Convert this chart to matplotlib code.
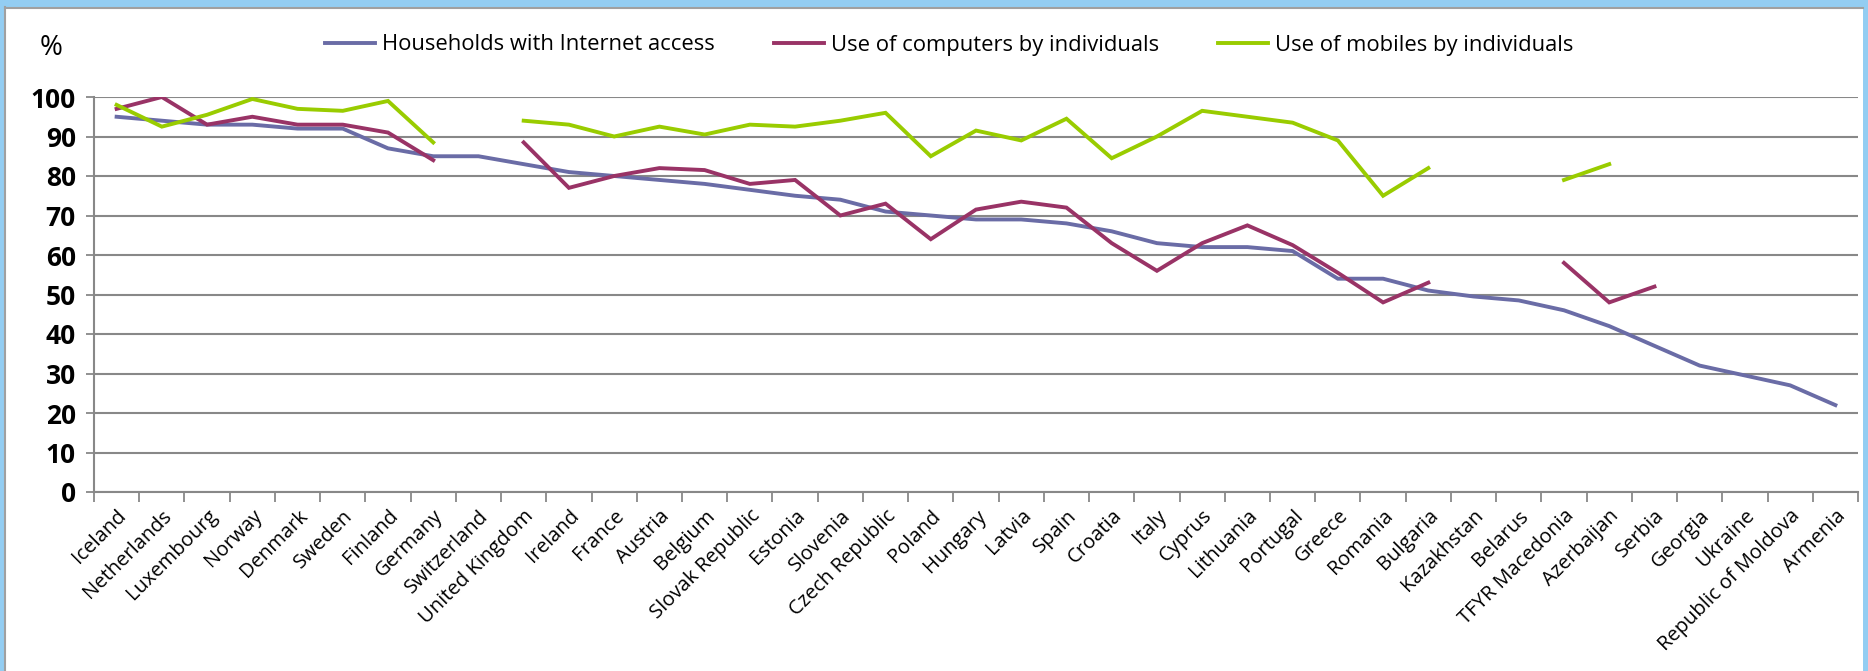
import numpy as np
import matplotlib.pyplot as plt
from matplotlib.patches import Rectangle
from matplotlib.lines import Line2D

nan = np.nan

countries = ["Iceland", "Netherlands", "Luxembourg", "Norway", "Denmark", "Sweden",
             "Finland", "Germany", "Switzerland", "United Kingdom", "Ireland", "France",
             "Austria", "Belgium", "Slovak Republic", "Estonia", "Slovenia",
             "Czech Republic", "Poland", "Hungary", "Latvia", "Spain", "Croatia", "Italy",
             "Cyprus", "Lithuania", "Portugal", "Greece", "Romania", "Bulgaria",
             "Kazakhstan", "Belarus", "TFYR Macedonia", "Azerbaijan", "Serbia", "Georgia",
             "Ukraine", "Republic of Moldova", "Armenia"]

households = [95, 94, 93, 93, 92, 92, 87, 85, 85, 83, 81, 80, 79, 78, 76.5, 75, 74, 71,
              70, 69, 69, 68, 66, 63, 62, 62, 61, 54, 54, 51, 49.5, 48.5, 46, 42, 37, 32,
              29.5, 27, 22]

computers = [97, 100, 93, 95, 93, 93, 91, 84, nan, 88.5, 77, 80, 82, 81.5, 78, 79, 70,
             73, 64, 71.5, 73.5, 72, 63, 56, 63, 67.5, 62.5, 55.5, 48, 53, nan, nan, 58,
             48, 52, nan, nan, nan, nan]

mobiles = [98, 92.5, 95.5, 99.5, 97, 96.5, 99, 88.5, nan, 94, 93, 90, 92.5, 90.5, 93,
           92.5, 94, 96, 85, 91.5, 89, 94.5, 84.5, 90, 96.5, 95, 93.5, 89, 75, 82, nan,
           nan, 79, 83, nan, nan, nan, nan, nan]

series_labels = ["Households with Internet access", "Use of computers by individuals",
                 "Use of mobiles by individuals"]
colors = ["#6A6CA6", "#993366", "#99CC00"]

plt.rcParams["font.family"] = ["Open Sans", "DejaVu Sans"]

W, H = 1868, 671
fig = plt.figure(figsize=(W / 100, H / 100), dpi=100)

# window-like frame: blue band on top and sides, thin grey border
band = "#93CDF2"
fig.patches.append(Rectangle((0, 1 - 7 / H), 1, 7 / H, transform=fig.transFigure,
                             facecolor=band, edgecolor="none", zorder=0))
fig.patches.append(Rectangle((0, 0), 4 / W, 1, transform=fig.transFigure,
                             facecolor=band, edgecolor="none", zorder=0))
fig.patches.append(Rectangle((1 - 5 / W, 0), 5 / W, 1, transform=fig.transFigure,
                             facecolor=band, edgecolor="none", zorder=0))
fig.add_artist(Line2D([5 / W, 5 / W], [0, 1 - 7 / H], transform=fig.transFigure,
                      color="#A0A0A0", lw=1.5))
fig.add_artist(Line2D([5 / W, 1 - 5 / W], [1 - 7.5 / H, 1 - 7.5 / H],
                      transform=fig.transFigure, color="#A0A0A0", lw=1.5))

ax = fig.add_axes([94 / W, (H - 492) / H, (1858 - 94) / W, (492 - 97) / H])

x = np.arange(len(countries))
for vals, col, lab in zip([households, computers, mobiles], colors, series_labels):
    ax.plot(x, vals, color=col, lw=2.8, label=lab, solid_joinstyle="miter", zorder=3)

ax.set_xlim(-0.5, len(countries) - 0.5)
ax.set_ylim(0, 100)
ax.set_yticks(range(0, 101, 10))
ax.yaxis.grid(True, color="#888888", lw=1.5)
ax.set_axisbelow(True)

ax.set_xticks(x)
ax.set_xticklabels(countries, rotation=45, ha="right", rotation_mode="anchor",
                   fontsize=14.5)
ax.set_xticks(np.arange(-0.5, len(countries)), minor=True)
ax.tick_params(axis="x", which="major", length=0, pad=10)
ax.tick_params(axis="x", which="minor", length=7, width=1.3, color="#888888")
ax.tick_params(axis="y", length=6, width=1.3, color="#888888", pad=7)
for t in ax.get_yticklabels():
    t.set_fontweight("bold")
    t.set_fontsize(19)
    t.set_family(["Liberation Sans Narrow", "Open Sans", "DejaVu Sans"])

for s in ["top", "right"]:
    ax.spines[s].set_visible(False)
for s in ["left", "bottom"]:
    ax.spines[s].set_color("#888888")
    ax.spines[s].set_linewidth(1.5)

fig.text(40 / W, 1 - 48 / H, "%", fontsize=20, va="center", ha="left")

fig.legend(loc="center", bbox_to_anchor=(949 / W, 1 - 45 / H), ncol=3, frameon=False,
           fontsize=15.8, handlelength=2.3, handletextpad=0.3, columnspacing=2.7)

fig.savefig("out.png", dpi=100)
